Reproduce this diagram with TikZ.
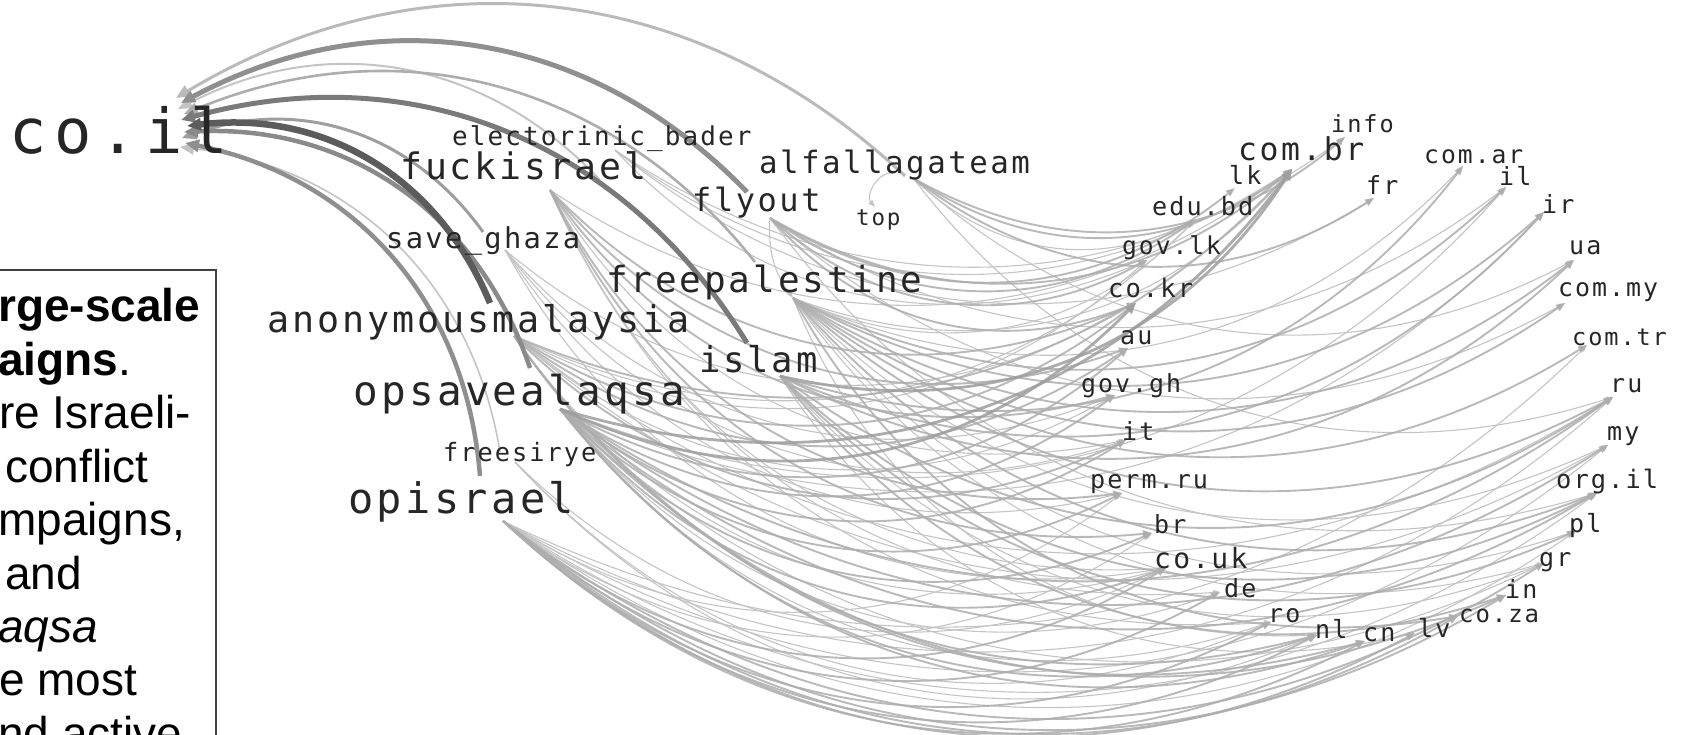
\documentclass[tikz,border=0pt]{standalone}
\usepackage{fontspec}
\usetikzlibrary{arrows.meta,calc}
\newfontfamily\lblfont[LetterSpace=8]{DejaVu Sans Mono}
\newfontfamily\bigfont[LetterSpace=13]{DejaVu Sans Mono}
\newfontfamily\capfont{Liberation Sans}
\newcommand\fsz[1]{\fontsize{#1pt}{#1pt}\selectfont}
% curved link bending to the right of its direction:
% #1 style, #2 from, #3 to, #4 along factor, #5 sideways factor
\newcommand\arcl[5]{%
  \draw[#1] let \p1=(#2), \p2=(#3) in (#2)
    .. controls ({\x1+#4*(\x2-\x1)+#5*(\y2-\y1)},{\y1+#4*(\y2-\y1)-#5*(\x2-\x1)})
           and ({\x2-#4*(\x2-\x1)+#5*(\y2-\y1)},{\y2-#4*(\y2-\y1)-#5*(\x2-\x1)})
    .. (#3);}
\definecolor{labcol}{HTML}{262626}
\definecolor{eA}{HTML}{C4C4C4}
\definecolor{eB}{HTML}{ADADAD}
\definecolor{eC}{HTML}{9E9E9E}
\tikzset{
  lab/.style={anchor=base west, inner sep=0pt, text=labcol, font=\lblfont},
  fa/.style={draw=eA, line width=1.1pt, -{Triangle[length=7pt,width=5pt]}},
  fb/.style={draw=eB, line width=1.9pt, draw opacity=0.85, -{Triangle[length=9pt,width=7pt]}},
  fc/.style={draw=eC, line width=2.8pt, draw opacity=0.85, -{Triangle[length=11pt,width=9pt]}},
  back/.style={line width=#1, -{Triangle[length=14pt,width=12pt]}},
  captxt/.style={anchor=base west, inner sep=0pt, font=\capfont\fsz{46}},
}
\begin{document}
\begin{tikzpicture}[x=1pt,y=1pt]
\useasboundingbox (0,0) rectangle (1681,-735);
\clip (0,0) rectangle (1681,-735);

% ---- edge end points: campaigns (sources)
\coordinate (opisrael-h) at (503,-521);
\coordinate (opsave-h) at (560,-409);
\coordinate (anon-h) at (514,-336);
\coordinate (fuck-h) at (550,-190);
\coordinate (freepal-h) at (793,-298);
\coordinate (islam-h) at (780,-376);
\coordinate (flyout-h) at (770,-218);
\coordinate (alfa-h) at (913,-178);
\coordinate (saveg-h) at (505,-250);
\coordinate (elec-h) at (615,-150);
\coordinate (frees-h) at (515,-462);
% campaign ends of the links into co.il
\coordinate (alfa-c) at (905,-176);
\coordinate (flyout-c) at (747,-192);
\coordinate (freepal-c) at (755,-262);
\coordinate (islam-c) at (747,-343);
\coordinate (anon-c) at (490,-303);
\coordinate (opsave-c) at (530,-368);
\coordinate (opisrael-c) at (480,-476);
\coordinate (saveg-c) at (483,-232);
\coordinate (fuck-c) at (600,-180);
\coordinate (frees-c) at (500,-452);
\coordinate (alfa-t) at (893,-173);
% arrow points at co.il
\coordinate (ci1) at (176,-98);
\coordinate (ci2) at (181,-103);
\coordinate (ci3) at (178,-109);
\coordinate (ci4) at (184,-114);
\coordinate (ci5) at (181,-120);
\coordinate (ci6) at (187,-126);
\coordinate (ci7) at (184,-132);
\coordinate (ci8) at (182,-138);
\coordinate (ci9) at (185,-143);
\coordinate (ci10) at (180,-147);
% arrow points at the domains
\coordinate (info-h) at (1345,-137);
\coordinate (combr-h) at (1292,-169);
\coordinate (comar-h) at (1463,-166);
\coordinate (lk-h) at (1235,-188);
\coordinate (fr-h) at (1374,-198);
\coordinate (il-h) at (1506,-187);
\coordinate (edubd-h) at (1195,-220);
\coordinate (ir-h) at (1544,-212);
\coordinate (govlk-h) at (1147,-260);
\coordinate (ua-h) at (1574,-260);
\coordinate (cokr-h) at (1136,-303);
\coordinate (commy-h) at (1565,-303);
\coordinate (au-h) at (1128,-348);
\coordinate (comtr-h) at (1587,-345);
\coordinate (govgh-h) at (1115,-395);
\coordinate (ru-h) at (1613,-397);
\coordinate (it-h) at (1126,-440);
\coordinate (my-h) at (1608,-445);
\coordinate (permru-h) at (1122,-493);
\coordinate (orgil-h) at (1597,-493);
\coordinate (br-h) at (1152,-533);
\coordinate (pl-h) at (1576,-531);
\coordinate (couk-h) at (1166,-568);
\coordinate (gr-h) at (1544,-563);
\coordinate (de-h) at (1220,-592);
\coordinate (in-h) at (1506,-595);
\coordinate (ro-h) at (1271,-622);
\coordinate (nl-h) at (1317,-635);
\coordinate (cn-h) at (1365,-641);
\coordinate (lv-h) at (1415,-633);
\coordinate (coza-h) at (1458,-616);
\coordinate (top-h) at (875,-207);

% ---- faint links
\foreach \s/\lst in {opisrael/{pl,orgil,my,ru,br,permru,comtr},
                    opsave/{de,ro,ir,il,gr},
                    anon/{edubd,govlk,govgh,couk,my,ru},
                    fuck/{it,couk,de,ro,combr},
                    freepal/{edubd,combr,comar,my,pl,gr,nl},
                    islam/{gr,lv},
                    flyout/{il,commy,orgil},
                    alfa/{edubd,ua,ru},
                    saveg/{cokr,permru,couk,govgh,it},
                    elec/{combr,info,fr,govlk},
                    frees/{couk,nl,ro}}{
  \foreach \t in \lst {\arcl{fa}{\s-h}{\t-h}{0.32}{0.225}}
}
% ---- regular links
\foreach \s/\lst in {opisrael/{ro,nl,cn,lv,coza,in,gr,couk,de},
                    opsave/{it,permru,br,couk,nl,cn,au,govgh,ru,orgil,my,in},
                    anon/{combr,cokr,au,it,nl,cn},
                    fuck/{cokr,au,govgh,permru,br},
                    freepal/{il,ir,ua,commy,comtr,ru,orgil,coza},
                    islam/{comar,ir,ua,ru,orgil,pl,in},
                    flyout/{combr,lk,edubd,govlk,cokr},
                    alfa/{info,combr,fr}}{
  \foreach \t in \lst {\arcl{fb}{\s-h}{\t-h}{0.32}{0.225}}
}
% ---- heavier links
\arcl{fc}{opsave-h}{combr-h}{0.32}{0.225}
\arcl{fc}{opsave-h}{cokr-h}{0.32}{0.225}
\arcl{fc}{islam-h}{combr-h}{0.32}{0.225}
\arcl{fa}{alfa-t}{top-h}{0.134}{0.368}
\arcl{fa}{flyout-h}{freepal-h}{0.368}{0.134}

% ---- links into co.il
\arcl{back=2pt, draw=eA}{fuck-c}{ci3}{0.313}{0.236}
\arcl{back=1.6pt, draw=eA}{frees-c}{ci10}{0.313}{0.236}
\arcl{back=2.6pt, draw=eB}{freepal-c}{ci4}{0.313}{0.236}
\arcl{back=3pt, draw=eC}{saveg-c}{ci8}{0.313}{0.236}
\arcl{back=3pt, draw=black!27}{alfa-c}{ci1}{0.313}{0.236}
\arcl{back=4.5pt, draw=black!44}{opisrael-c}{ci9}{0.313}{0.236}
\arcl{back=4.5pt, draw=black!46}{opsave-c}{ci7}{0.313}{0.236}
\arcl{back=5pt, draw=black!44}{flyout-c}{ci2}{0.313}{0.236}
\arcl{back=5pt, draw=black!52}{islam-c}{ci5}{0.313}{0.236}
\arcl{back=6.5pt, draw=black!64}{anon-c}{ci6}{0.313}{0.236}

% ---- campaign labels
\node[lab, font=\bigfont\fsz{62}] (coil) at (9,-154) {co.il};
\node[lab] (elec) at (452,-146) {\fsz{26}electorinic\_bader};
\node[lab] (fuck) at (400,-180) {\fsz{36.5}fuckisrael};
\node[lab] (alfa) at (759,-174) {\fsz{30.8}alfallagateam};
\node[lab] (flyout) at (692,-212) {\fsz{32}flyout};
\node[lab] (top) at (856,-226) {\fsz{22.5}top};
\node[lab] (saveg) at (386,-249) {\fsz{28.8}save\_ghaza};
\node[lab] (freepal) at (606,-293) {\fsz{36}freepalestine};
\node[lab] (anon) at (267,-332) {\fsz{36.7}anonymousmalaysia};
\node[lab] (islam) at (699,-372) {\fsz{35.5}islam};
\node[lab] (opsave) at (353,-405) {\fsz{41}opsavealaqsa};
\node[lab] (frees) at (443,-461) {\fsz{25.3}freesirye};
\node[lab] (opisrael) at (348,-513) {\fsz{42}opisrael};

% ---- domain labels
\node[lab] (info) at (1331,-133) {\fsz{23.6}info};
\node[lab] (combr) at (1238,-161) {\fsz{31.4}com.br};
\node[lab] (comar) at (1424,-164) {\fsz{24.7}com.ar};
\node[lab] (lk) at (1229,-185) {\fsz{25}lk};
\node[lab] (fr) at (1366,-195) {\fsz{25}fr};
\node[lab] (il) at (1499,-186) {\fsz{25}il};
\node[lab] (edubd) at (1152,-216) {\fsz{25.2}edu.bd};
\node[lab] (ir) at (1542,-214) {\fsz{25}ir};
\node[lab] (govlk) at (1122,-255) {\fsz{24.6}gov.lk};
\node[lab] (ua) at (1569,-255) {\fsz{25}ua};
\node[lab] (cokr) at (1108,-298) {\fsz{25.5}co.kr};
\node[lab] (commy) at (1558,-297) {\fsz{24.9}com.my};
\node[lab] (au) at (1120,-344) {\fsz{25}au};
\node[lab] (comtr) at (1572,-345) {\fsz{23.6}com.tr};
\node[lab] (govgh) at (1081,-392) {\fsz{24.9}gov.gh};
\node[lab] (ru) at (1610,-392) {\fsz{25}ru};
\node[lab] (it) at (1122,-440) {\fsz{25}it};
\node[lab] (my) at (1607,-440) {\fsz{25}my};
\node[lab] (permru) at (1090,-488) {\fsz{25.1}perm.ru};
\node[lab] (orgil) at (1556,-488) {\fsz{25.4}org.il};
\node[lab] (br) at (1154,-533) {\fsz{25}br};
\node[lab] (pl) at (1569,-532) {\fsz{25}pl};
\node[lab] (couk) at (1154,-568) {\fsz{28}co.uk};
\node[lab] (gr) at (1539,-566) {\fsz{25}gr};
\node[lab] (de) at (1224,-597) {\fsz{25}de};
\node[lab] (in) at (1505,-598) {\fsz{25}in};
\node[lab] (ro) at (1268,-622) {\fsz{25}ro};
\node[lab] (nl) at (1315,-638) {\fsz{25}nl};
\node[lab] (cn) at (1363,-641) {\fsz{25}cn};
\node[lab] (lv) at (1418,-637) {\fsz{25}lv};
\node[lab] (coza) at (1459,-622) {\fsz{24}co.za};

% ---- caption box, cut by the left and bottom edges
\draw[draw=black!75, line width=1.2pt] (-5,-270) -- (216,-270) -- (216,-760);
\node[captxt] (c1) at (-2,-322) {\bfseries rge-scale};
\node[captxt] (c2) at (-2,-375.4) {\bfseries aigns\mdseries .};
\node[captxt] (c3) at (-1,-428.8) {re Israeli-};
\node[captxt] (c4) at (5,-482.2) {conflict};
\node[captxt] (c5) at (-2,-535.6) {mpaigns,};
\node[captxt] (c6) at (5,-589) {and};
\node[captxt] (c7) at (-2,-642.4) {\itshape aqsa};
\node[captxt] (c8) at (-1,-695.8) {e most};
\node[captxt] (c9) at (-2,-749.2) {nd active};
\end{tikzpicture}
\end{document}
